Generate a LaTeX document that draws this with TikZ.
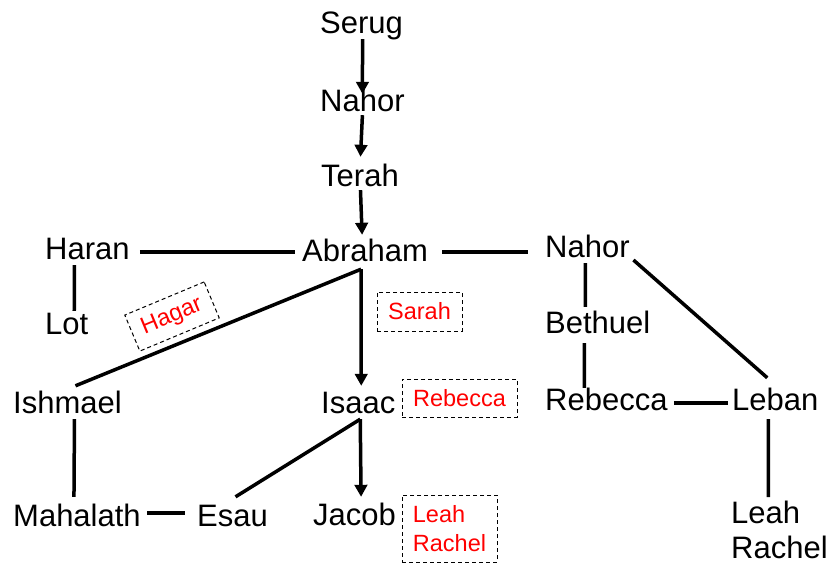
\documentclass[tikz,border=0pt]{standalone}
\usepackage{fontspec}
\setmainfont{Liberation Sans}
\usetikzlibrary{arrows.meta,calc}
\begin{document}
\begin{tikzpicture}[x=1pt,y=-1pt,
  person/.style={inner sep=0pt,text height=22pt,text depth=0pt,anchor=base west,font=\fontsize{31}{35}\selectfont},
  link/.style={line width=3.5pt},
  descent/.style={line width=3.5pt,-{Triangle[length=12pt,width=12.5pt]}},
  spouse/.style={draw=black,dash pattern=on 4pt off 3pt,line width=1pt,text=red,inner sep=0pt,font=\fontsize{23.5}{29}\selectfont}
]
\useasboundingbox (0,0) rectangle (834,567);
% people
\node[person] (serug) at (320,34) {Serug};
\node[person] (nahorA) at (320,112) {Nahor};
\node[person] (terah) at (321,186) {Terah};
\node[person] (abraham) at (302,261) {Abraham};
\node[person] (haran) at (45,259) {Haran};
\node[person] (nahorB) at (545,257) {Nahor};
\node[person] (lot) at (45,334) {Lot};
\node[person] (bethuel) at (545,333) {Bethuel};
\node[person] (ishmael) at (13,413) {Ishmael};
\node[person] (isaac) at (321,413) {Isaac};
\node[person] (rebeccaB) at (545,410) {Rebecca};
\node[person] (leban) at (732,410) {Leban};
\node[person] (mahalath) at (13,526) {Mahalath};
\node[person] (esau) at (197,526) {Esau};
\node[person] (jacob) at (313,525) {Jacob};
\node[inner sep=0pt,anchor=north west,align=left,font=\fontsize{31}{35}\selectfont] (leahB) at (731,501) {Leah\\Rachel};
% wives
\node[spouse,rotate=22.7,minimum width=86pt,minimum height=39pt] (hagar) at (172,316.5) {Hagar};
\node[spouse,minimum width=85pt,minimum height=39pt] (sarah) at (419.5,311.5) {Sarah};
\node[spouse,minimum width=115pt,minimum height=38pt] (rebeccaA) at (459.5,398) {Rebecca};
\node[spouse,minimum width=95pt,minimum height=67pt,align=left] (leahA) at (449.5,528.5) {Leah\\Rachel};
% forks
\coordinate (abrfork) at ($(abraham.south)+(-4,8)$);
\coordinate (isaacfork) at ($(isaac.south)+(2,6)$);
% descent arrows
\draw[descent] ($(serug.south)+(1,5)$) -- ($(nahorA.north)+(0,4)$);
\draw[descent] ($(nahorA.south)+(0,3)$) -- ($(terah.north)+(0.5,-7)$);
\draw[descent] ($(terah.south)+(0.5,4)$) -- ($(abraham.north)+(-3,-4)$);
\draw[descent] (abrfork) -- ($(isaac.north)+(3,-5)$);
\draw[descent] (isaacfork) -- ($(jacob.north)+(6.5,-6)$);
% links
\draw[link] (abrfork) -- ($(ishmael.north)+(8,-5)$);
\draw[link] (isaacfork) -- ($(esau.north)+(3,-7)$);
\draw[link] ($(haran.east)+(10,4)$) -- ($(abraham.west)+(-7,2)$);
\draw[link] ($(abraham.east)+(14,2)$) -- ($(nahorB.west)+(-17,6)$);
\draw[link] ($(haran.south)+(-13,6)$) -- ($(lot.north)+(7.5,-1)$);
\draw[link] ($(nahorB.south)+(-2,6)$) -- ($(bethuel.north)+(-12.5,-4)$);
\draw[link] ($(bethuel.south)+(-13.5,10)$) -- ($(rebeccaB.north)+(-22,0)$);
\draw[link] ($(nahorB.east)+(3.6,14)$) -- ($(leban.north)+(-8,-10)$);
\draw[link] ($(rebeccaB.east)+(6,4)$) -- ($(leban.west)+(-4,4)$);
\draw[link] ($(leban.south)+(-7,9)$) -- ($(leahB.north)+(-11,-4)$);
\draw[link] ($(ishmael.south)+(7,6)$) -- ($(mahalath.north)+(-3,-7)$);
\draw[link] ($(mahalath.east)+(6.5,-2)$) -- ($(esau.west)+(-12,-2)$);
\end{tikzpicture}
\end{document}
